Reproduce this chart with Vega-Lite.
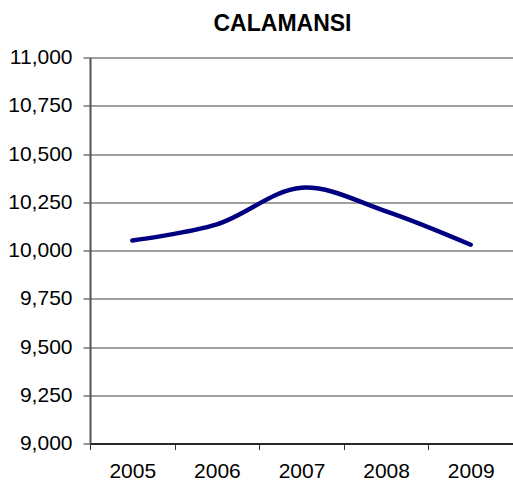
{
  "$schema": "https://vega.github.io/schema/vega-lite/v6.json",
  "autosize": "none",
  "width": 423,
  "height": 386,
  "padding": {"left": 90, "top": 57.5, "right": 0, "bottom": 40.5},
  "background": "white",
  "config": {
    "font": "Liberation Sans",
    "view": {"stroke": null}
  },
  "title": {
    "text": "CALAMANSI",
    "font": "Liberation Sans",
    "fontSize": 23,
    "fontWeight": "bold",
    "color": "black",
    "anchor": "middle",
    "frame": "group",
    "dx": -19,
    "offset": 11
  },
  "data": {
    "values": [
      {"year": "2005", "value": 10052},
      {"year": "2006", "value": 10135},
      {"year": "2007", "value": 10325},
      {"year": "2008", "value": 10203},
      {"year": "2009", "value": 10030}
    ]
  },
  "mark": {"type": "line", "interpolate": "catmull-rom", "color": "#000080", "strokeWidth": 4.5, "strokeCap": "round"},
  "encoding": {
    "x": {
      "field": "year",
      "type": "ordinal",
      "scale": {"paddingInner": 0, "paddingOuter": 0},
      "axis": {
        "title": null,
        "labelAngle": 0,
        "labelFont": "Liberation Sans",
        "labelFontSize": 21,
        "labelColor": "black",
        "labelPadding": 11,
        "domainColor": "black",
        "domainWidth": 1.5,
        "tickColor": "#333333",
        "tickSize": 6,
        "tickWidth": 1,
        "tickBand": "extent",
        "grid": false
      }
    },
    "y": {
      "field": "value",
      "type": "quantitative",
      "scale": {"domain": [9000, 11000], "nice": false, "zero": false},
      "axis": {
        "title": null,
        "values": [9000, 9250, 9500, 9750, 10000, 10250, 10500, 10750, 11000],
        "format": ",d",
        "labelFont": "Liberation Sans",
        "labelFontSize": 21,
        "labelColor": "black",
        "labelPadding": 11,
        "domainColor": "#555555",
        "domainWidth": 2,
        "tickColor": "#333333",
        "tickSize": 7,
        "tickWidth": 1,
        "grid": true,
        "gridColor": "#808080",
        "gridWidth": 1.3,
        "gridOpacity": 1
      }
    }
  }
}
